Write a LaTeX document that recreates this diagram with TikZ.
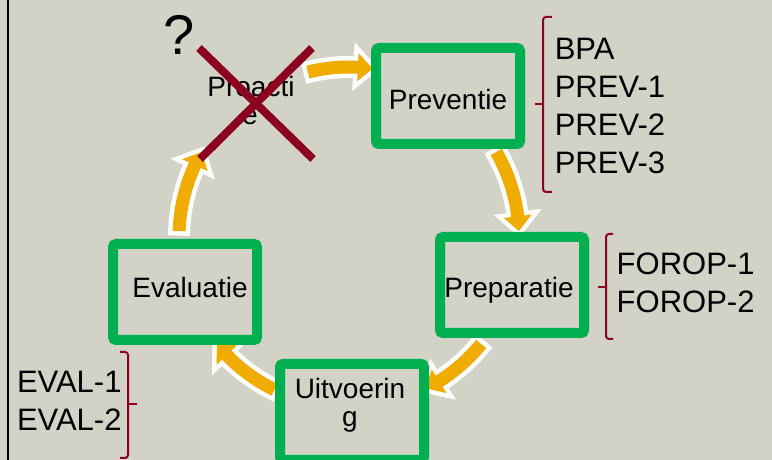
\documentclass[tikz,border=0pt]{standalone}
\usepackage{fontspec}
\setmainfont{Liberation Sans}
\definecolor{bg}{RGB}{211,210,198}
\definecolor{grn}{RGB}{0,176,80}
\definecolor{gold}{RGB}{240,172,0}
\definecolor{dred}{RGB}{140,0,32}
\tikzset{
  phasebox/.style={draw=grn, line width=10pt, rounded corners=3pt, minimum width=144pt, minimum height=96pt, inner sep=0pt},
  phasetext/.style={anchor=base, inner sep=0pt, font=\fontsize{28}{28}\selectfont},
  listtext/.style={anchor=base west, inner sep=0pt, font=\fontsize{31}{31}\selectfont},
  arrowrim/.style={draw=white, line width=9pt, line join=miter},
  arrowfill/.style={fill=gold},
  bracesty/.style={draw=dred, line width=2pt},
  crosssty/.style={draw=dred, line width=8pt}
}
\newcommand\arrowoutline[2]{%
  (#1:176.5) arc[start angle=#1, end angle={#2+5}, radius=176.5]
    -- ({#2+5}:184) -- (#2:170) -- ({#2+5}:156) -- ({#2+5}:163.5)
    arc[start angle={#2+5}, end angle=#1, radius=163.5] -- cycle}
\newcommand\cyclearrow[2]{%
  \path[arrowrim] \arrowoutline{#1}{#2};
  \path[arrowfill] \arrowoutline{#1}{#2};}
\begin{document}
\begin{tikzpicture}[x=1pt, y=1pt]
  \fill[bg] (0,0) rectangle (772,460);
  \useasboundingbox (0,0) rectangle (772,460);
  \draw[line width=2pt] (8,0) -- (8,460);
  % cycle arrows
  \begin{scope}[shift={(349,223)}]
    \cyclearrow{104}{82}
    \cyclearrow{30}{2}
    \cyclearrow{-39}{-63}
    \cyclearrow{-116}{-141}
    \cyclearrow{178}{150}
  \end{scope}
  % boxes
  \node[phasebox] (prev) at (448,364) {};
  \node[phasebox] (prep) at (512,175) {};
  \node[phasebox] (eval) at (185,168) {};
  \node[phasebox] (uitv) at (352,48) {};
  % box labels
  \node[phasetext] (tprev) at (448,350) {Preventie};
  \node[phasetext] (tprep) at (509,162) {Preparatie};
  \node[phasetext] (teval) at (190,162) {Evaluatie};
  \node[phasetext] (tuit1) at (350,61) {Uitvoerin};
  \node[phasetext] (tuit2) at (350,33) {g};
  \node[phasetext] (tpro1) at (251,363) {Proacti};
  \node[phasetext] (tpro2) at (250,335.5) {e};
  % question mark and cross
  \node[anchor=base, inner sep=0pt, font=\fontsize{56}{56}\selectfont] (qm) at (179,405) {?};
  \draw[crosssty] (199,412) -- (313,301);
  \draw[crosssty] (312,412) -- (200,301);
  % lists
  \node[listtext] (bpa) at (554.6,400.7) {BPA};
  \node[listtext] (p1) at (554.6,362.3) {PREV-1};
  \node[listtext] (p2) at (554.6,324.5) {PREV-2};
  \node[listtext] (p3) at (554.6,286.7) {PREV-3};
  \node[listtext] (f1) at (616.5,185) {FOROP-1};
  \node[listtext] (f2) at (616.5,147) {FOROP-2};
  \begin{scope}
    \clip (0,0) rectangle (121,460);
    \node[listtext] (e1) at (16.8,67.3) {EVAL-1};
    \node[listtext] (e2) at (16.8,29.3) {EVAL-2};
  \end{scope}
  % braces
  \draw[bracesty, rounded corners=3pt] (552,443) -- (543,443) -- (543,268) -- (552,268);
  \draw[bracesty] (543,356) -- (535,356);
  \draw[bracesty, rounded corners=3pt] (613,226) -- (606,226) -- (606,121) -- (613,121);
  \draw[bracesty] (606,173) -- (598,173);
  \draw[bracesty, rounded corners=3pt] (120,108) -- (128,108) -- (128,2) -- (120,2);
  \draw[bracesty] (128,56) -- (137,56);
\end{tikzpicture}
\end{document}
